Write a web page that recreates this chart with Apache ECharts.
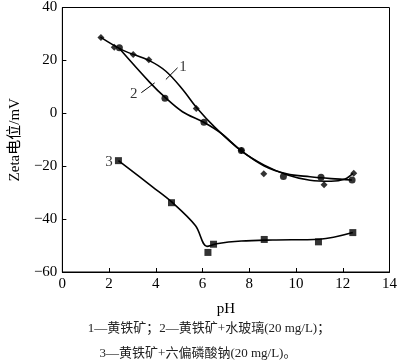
<!DOCTYPE html>
<html><head><meta charset="utf-8">
<script src="https://cdn.jsdelivr.net/npm/echarts@6/dist/echarts.min.js"></script>
<style>html,body{margin:0;padding:0;background:#fff}#c{width:400px;height:363px}</style>
</head><body><div id="c"></div>
<script>
// Measured points
const pyrite = [[1.65,28.7],[2.22,25],[3.03,22.2],[3.7,20.2],[5.73,1.8],[7.66,-14.1],[8.62,-22.9],[11.2,-27],[12.47,-22.7]];
const waterGlass = [[2.44,24.8],[4.39,5.7],[6.06,-3.4],[7.66,-14.1],[9.46,-23.9],[11.07,-24.2],[12.4,-25.2]];
const hexameta = [[2.4,-17.9],[4.67,-33.8],[6.23,-52.6],[6.47,-49.5],[8.64,-47.7],[10.96,-48.6],[12.43,-45.1]];
// Fitted curves
const curve1 = [[1.63,28.8],[2.6,23.8],[3.7,20.0],[4.43,15.9],[5.14,9.1],[5.74,2.2],[6.54,-5.4],[7.66,-14.2],[8.64,-19.6],[9.6,-23.2],[10.6,-25.3],[11.5,-25.7],[12.1,-24.8],[12.43,-22.7]];
const curve2 = [[2.44,24.5],[3.73,11.8],[4.41,5.9],[5.14,0.6],[6.05,-3.4],[6.8,-7.6],[7.66,-14.2],[8.64,-19.9],[9.6,-22.9],[10.6,-24.0],[11.5,-24.7],[12.39,-25.2]];
const curve3 = [[2.4,-17.9],[3.87,-27.9],[4.69,-33.6],[5.7,-42.5],[6.19,-50.3],[6.6,-49.3],[7.66,-48.3],[9.0,-47.9],[11.0,-47.6],[12.43,-45.1]];
// Leader lines and labels
const leader1 = [[4.43,12.8],[4.93,17.2]];
const leader2 = [[3.38,7.8],[3.95,11.5]];
const labelPts = [{value:[5.16,17.6],name:'1'},{value:[3.06,7.2],name:'2'},{value:[2.0,-18.3],name:'3'}];
const xTicks = {min:0,max:14,interval:2};
const yTicks = {min:-60,max:40,interval:20};
const xName = 'pH';
const yName = 'Zeta电位/mV';
const caption1 = '1—黄铁矿；2—黄铁矿+水玻璃(20 mg/L)；';
const caption2 = '3—黄铁矿+六偏磷酸钠(20 mg/L)。';

const serif = '"Liberation Serif","Times New Roman",serif';
const cjk = '"Liberation Serif","Noto Sans CJK SC",serif';
const chart = echarts.init(document.getElementById('c'));
const lineS = (d) => ({type:'line',data:d,smooth:0.35,showSymbol:false,symbol:'none',
  lineStyle:{color:'#000',width:1.6},z:2,silent:true});
const markS = (d,sym,size) => ({type:'scatter',data:d,symbol:sym,symbolSize:size,
  itemStyle:{color:'#000'},z:3,silent:true});
chart.setOption({
  animation:false,
  grid:{left:58,right:9,top:6,bottom:91,show:true,borderColor:'#000',borderWidth:1},
  title:[
    {text:caption1,left:204,textAlign:'center',top:317,textStyle:{fontFamily:cjk,fontSize:13,fontWeight:'normal',color:'#222'}},
    {text:caption2,left:193,textAlign:'center',top:342,textStyle:{fontFamily:cjk,fontSize:13,fontWeight:'normal',color:'#222'}}
  ],
  xAxis:{type:'value',min:xTicks.min,max:xTicks.max,interval:xTicks.interval,
    name:xName,nameLocation:'middle',nameGap:30,
    nameTextStyle:{fontFamily:serif,fontSize:15,color:'#000'},
    axisLine:{onZero:false,lineStyle:{color:'#000',width:1}},
    axisTick:{inside:true,length:4,lineStyle:{color:'#000'}},
    axisLabel:{fontFamily:serif,fontSize:15,color:'#000',margin:5},
    splitLine:{show:false}},
  yAxis:{type:'value',min:yTicks.min,max:yTicks.max,interval:yTicks.interval,
    name:yName,nameLocation:'middle',nameGap:38,nameRotate:90,
    nameTextStyle:{fontFamily:cjk,fontSize:15,color:'#000'},
    axisLine:{onZero:false,lineStyle:{color:'#000',width:1}},
    axisTick:{inside:true,length:4,lineStyle:{color:'#000'}},
    axisLabel:{fontFamily:serif,fontSize:15,color:'#000',margin:5,
      formatter:v=>String(v).replace('-','\u2212')},
    splitLine:{show:false}},
  series:[
    lineS(curve1),lineS(curve2),lineS(curve3),
    markS(pyrite,'diamond',7),
    markS(waterGlass,'circle',7),
    markS(hexameta,'rect',7),
    {type:'line',data:leader1,symbol:'none',lineStyle:{color:'#000',width:1},silent:true},
    {type:'line',data:leader2,symbol:'none',lineStyle:{color:'#000',width:1},silent:true},
    {type:'scatter',data:labelPts,symbolSize:0,silent:true,
      label:{show:true,position:'inside',formatter:p=>p.name,fontFamily:serif,fontSize:15,color:'#000'}}
  ]
});
</script></body></html>
